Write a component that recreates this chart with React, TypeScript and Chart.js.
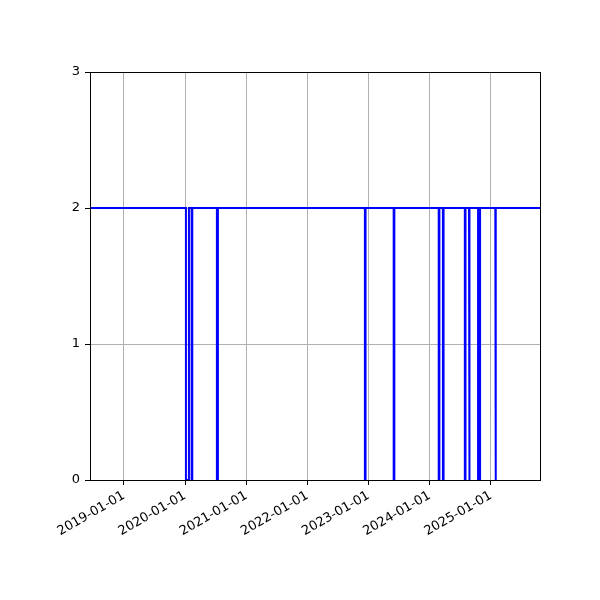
import React, { useEffect, useRef } from "react";
import { Chart, registerables } from "chart.js";

Chart.register(...registerables);

// Axis range (dates)
const xStart = "2018-06-12";
const xEnd = "2025-10-21";
// Baseline value of the series and dip value
const baseValue = 2;
const dipValue = 0;
// Periods when the series drops to 0
const dipStarts = [
  "2020-01-06", "2020-02-09", "2020-07-09", "2022-12-10", "2023-05-31",
  "2024-02-24", "2024-03-20", "2024-07-29", "2024-08-23", "2024-10-16", "2025-01-27",
];
const dipEnds = [
  "2020-01-24", "2020-02-13", "2020-07-15", "2022-12-14", "2023-06-04",
  "2024-02-28", "2024-03-24", "2024-08-02", "2024-08-27", "2024-10-28", "2025-01-31",
];
const xTickLabels = [
  "2019-01-01", "2020-01-01", "2021-01-01", "2022-01-01", "2023-01-01", "2024-01-01", "2025-01-01",
];
const yTicks = [0, 1, 2, 3];

const ts = (s: string) => Date.parse(s + "T00:00:00Z");
const fmt = (v: number) => new Date(v).toISOString().slice(0, 10);

const boxPlugin = {
  id: "box",
  afterDatasetsDraw(chart: any) {
    const { ctx, chartArea } = chart;
    ctx.save();
    ctx.strokeStyle = "#000";
    ctx.lineWidth = 1;
    const l = Math.round(chartArea.left) + 0.5;
    const t = Math.round(chartArea.top) + 0.5;
    const r = Math.round(chartArea.right) + 0.5;
    const b = Math.round(chartArea.bottom) + 0.5;
    ctx.strokeRect(l, t, r - l, b - t);
    ctx.restore();
  },
};

export default function App() {
  const ref = useRef<HTMLCanvasElement>(null);
  useEffect(() => {
    const data: { x: number; y: number }[] = [];
    data.push({ x: ts(xStart), y: baseValue });
    dipStarts.forEach((s, i) => {
      data.push({ x: ts(s), y: baseValue });
      data.push({ x: ts(s), y: dipValue });
      data.push({ x: ts(dipEnds[i]), y: dipValue });
      data.push({ x: ts(dipEnds[i]), y: baseValue });
    });
    data.push({ x: ts(xEnd), y: baseValue });

    const font = { family: "DejaVu Sans", size: 13 };
    const chart = new Chart(ref.current!, {
      type: "line",
      data: {
        datasets: [
          {
            data,
            borderColor: "#0000ff",
            borderWidth: 2,
            pointRadius: 0,
            tension: 0,
            fill: false,
            clip: 0,
          } as any,
        ],
      },
      options: {
        animation: false,
        responsive: false,
        devicePixelRatio: 1,
        plugins: { legend: { display: false }, tooltip: { enabled: false } },
        layout: { padding: { left: 0, top: 72, right: 60, bottom: 0 } },
        scales: {
          x: {
            type: "linear",
            min: ts(xStart),
            max: ts(xEnd),
            afterBuildTicks: (scale: any) => {
              scale.ticks = xTickLabels.map((s) => ({ value: ts(s) }));
            },
            afterFit: (scale: any) => {
              scale.height = 120;
            },
            ticks: {
              autoSkip: false,
              minRotation: 30,
              maxRotation: 30,
              color: "#000",
              font,
              padding: 3,
              callback: (v: any) => fmt(Number(v)),
            },
            grid: { color: "#b0b0b0", lineWidth: 1, drawTicks: true, tickLength: 5, tickColor: "#000" },
            border: { display: false },
          },
          y: {
            type: "linear",
            min: 0,
            max: 3,
            afterBuildTicks: (scale: any) => {
              scale.ticks = yTicks.map((v) => ({ value: v }));
            },
            afterFit: (scale: any) => {
              scale.width = 90;
            },
            ticks: { color: "#000", font, padding: 5, callback: (v: any) => String(v) },
            grid: { color: "#b0b0b0", lineWidth: 1, drawTicks: true, tickLength: 5, tickColor: "#000" },
            border: { display: false },
          },
        },
      },
      plugins: [boxPlugin],
    });
    return () => chart.destroy();
  }, []);
  return (
    <div style={{ position: "fixed", left: 0, top: 0, width: 600, height: 600, background: "#fff" }}>
      <canvas ref={ref} width={600} height={600} />
    </div>
  );
}
